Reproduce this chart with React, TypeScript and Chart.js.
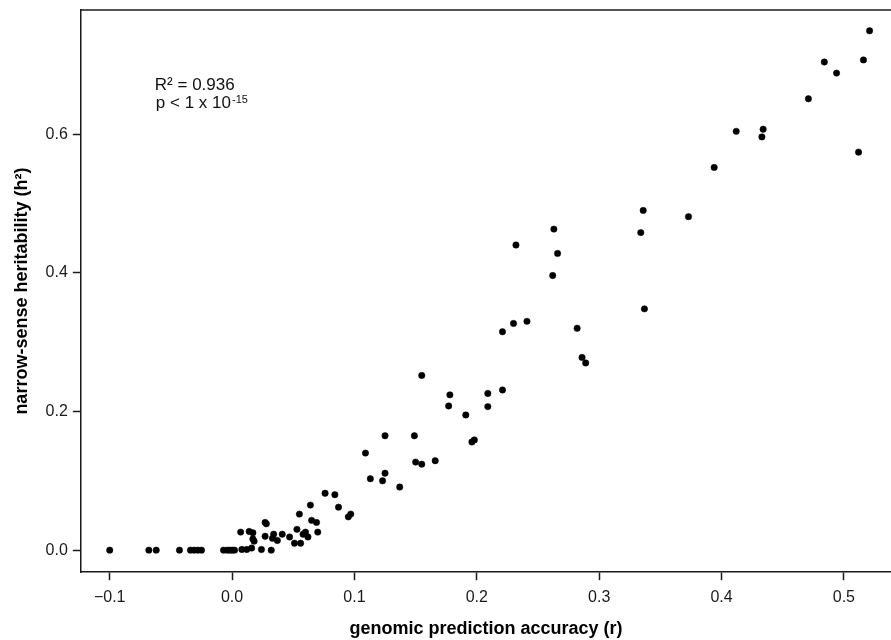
import { useEffect, useRef } from "react";
import { Chart, registerables } from "chart.js";

Chart.register(...registerables);

// genomic prediction accuracy (r)
const accuracy: number[] = [
  -0.1, -0.068, -0.062, -0.043, -0.034, -0.031, -0.028, -0.025, -0.007, -0.004, -0.002, 0.0, 0.002,
  0.007, 0.014, 0.017, 0.017, 0.018, 0.008, 0.012, 0.016, 0.024, 0.027, 0.028, 0.027, 0.033, 0.032,
  0.034, 0.037, 0.041, 0.047, 0.051, 0.056, 0.053, 0.055, 0.058, 0.06, 0.062, 0.064, 0.065, 0.069,
  0.07, 0.076, 0.084, 0.087, 0.095, 0.097,
  0.109, 0.113, 0.123, 0.125, 0.125, 0.137, 0.149, 0.15, 0.155, 0.155, 0.166, 0.177, 0.178, 0.191,
  0.196, 0.198, 0.209, 0.209, 0.221, 0.221, 0.23, 0.232, 0.241, 0.262, 0.263, 0.266, 0.282, 0.286,
  0.289, 0.334, 0.336, 0.337, 0.373, 0.394, 0.412, 0.433, 0.434, 0.471, 0.484, 0.494, 0.512, 0.516,
  0.521,
];

// narrow-sense heritability (h²)
const heritability: number[] = [
  0, 0, 0, 0, 0, 0, 0, 0, 0, 0, 0, 0, 0,
  0.026, 0.027, 0.025, 0.016, 0.013, 0.001, 0.001, 0.003, 0.001, 0.04, 0.038, 0.02, 0.017, 0.0,
  0.023, 0.014, 0.023, 0.019, 0.01, 0.01, 0.03, 0.052, 0.023, 0.026, 0.019, 0.065, 0.043, 0.04,
  0.026, 0.082, 0.08, 0.062, 0.048, 0.052,
  0.14, 0.103, 0.1, 0.111, 0.165, 0.091, 0.165, 0.127, 0.124, 0.252, 0.129, 0.208, 0.224, 0.195,
  0.156, 0.159, 0.226, 0.207, 0.231, 0.315, 0.327, 0.44, 0.33, 0.396, 0.463, 0.428, 0.32, 0.278,
  0.27, 0.458, 0.49, 0.348, 0.481, 0.552, 0.604, 0.596, 0.607, 0.651, 0.704, 0.688, 0.574, 0.707,
  0.749,
];

const xTickValues: number[] = [-0.1, 0, 0.1, 0.2, 0.3, 0.4, 0.5];
const xTickLabels: string[] = ["\u22120.1", "0.0", "0.1", "0.2", "0.3", "0.4", "0.5"];
const yTickValues: number[] = [0, 0.2, 0.4, 0.6];
const yTickLabels: string[] = ["0.0", "0.2", "0.4", "0.6"];

const xTitle = "genomic prediction accuracy (r)";
const yTitle = "narrow-sense heritability (h\u00b2)";
const statLine1 = "R\u00b2 = 0.936";
const statLine2 = "p < 1 x 10";
const statExponent = "-15";

const FONT = '"Liberation Sans", Arial, Helvetica, sans-serif';
const AXIS_COLOR = "#1a1a1a";

const framePlugin = {
  id: "frameAndStats",
  afterDraw(chart: any) {
    const { ctx, chartArea } = chart;
    ctx.save();
    ctx.strokeStyle = AXIS_COLOR;
    ctx.lineWidth = 1.5;
    ctx.beginPath();
    ctx.moveTo(chartArea.left - 0.75, chartArea.top);
    ctx.lineTo(chartArea.right + 2, chartArea.top);
    ctx.stroke();

    ctx.fillStyle = "#111";
    ctx.textBaseline = "alphabetic";
    ctx.textAlign = "left";
    const tx = chartArea.left + 74;
    ctx.font = `17px ${FONT}`;
    ctx.fillText(statLine1, tx, chartArea.top + 80);
    ctx.fillText(statLine2, tx + 1, chartArea.top + 98);
    const w = ctx.measureText(statLine2).width;
    ctx.font = `11px ${FONT}`;
    ctx.fillText(statExponent, tx + 1 + w + 1, chartArea.top + 93);
    ctx.restore();
  },
};

export default function App() {
  const canvasRef = useRef<HTMLCanvasElement | null>(null);

  useEffect(() => {
    document.body.style.margin = "0";
    const canvas = canvasRef.current;
    if (!canvas) return;
    const points = accuracy.map((x, i) => ({ x, y: heritability[i] }));
    const chart = new Chart(canvas, {
      type: "scatter",
      data: {
        datasets: [
          {
            data: points,
            backgroundColor: "#000",
            borderColor: "#000",
            borderWidth: 0.5,
            pointRadius: 3.2,
            pointHoverRadius: 3.2,
          },
        ],
      },
      options: {
        responsive: false,
        animation: false,
        layout: { autoPadding: false, padding: { top: 10, right: 0, bottom: 0, left: 11 } },
        plugins: {
          legend: { display: false },
          tooltip: { enabled: false },
        },
        scales: {
          x: {
            type: "linear",
            min: -0.1236,
            max: 0.5385,
            afterBuildTicks: (scale: any) => {
              scale.ticks = xTickValues.map((v) => ({ value: v }));
            },
            ticks: {
              callback: (_v: any, i: number) => xTickLabels[i],
              font: { family: FONT, size: 16 },
              color: "#1a1a1a",
              padding: 8,
              maxRotation: 0,
              autoSkip: false,
            },
            grid: {
              display: true,
              drawOnChartArea: false,
              drawTicks: true,
              tickLength: 8,
              tickWidth: 1.5,
              tickColor: AXIS_COLOR,
            },
            border: { display: true, color: AXIS_COLOR, width: 1.5 },
            title: {
              display: true,
              text: xTitle,
              font: { family: FONT, size: 18, weight: "bold" },
              color: "#000",
              padding: { top: 3, bottom: 0 },
            },
          },
          y: {
            type: "linear",
            min: -0.0318,
            max: 0.779,
            afterBuildTicks: (scale: any) => {
              scale.ticks = yTickValues.map((v) => ({ value: v }));
            },
            afterFit: (scale: any) => {
              scale.paddingTop = 0;
              scale.paddingBottom = 0;
            },
            ticks: {
              callback: (_v: any, i: number) => yTickLabels[i],
              font: { family: FONT, size: 16 },
              color: "#1a1a1a",
              padding: 5,
              autoSkip: false,
            },
            grid: {
              display: true,
              drawOnChartArea: false,
              drawTicks: true,
              tickLength: 8,
              tickWidth: 1.5,
              tickColor: AXIS_COLOR,
            },
            border: { display: true, color: AXIS_COLOR, width: 1.5 },
            title: {
              display: true,
              text: yTitle,
              font: { family: FONT, size: 18, weight: "bold" },
              color: "#000",
              padding: { top: 0, bottom: 8 },
            },
          },
        },
      },
      plugins: [framePlugin],
    } as any);
    return () => chart.destroy();
  }, []);

  return (
    <div style={{ position: "absolute", left: 0, top: 0, width: 891, height: 640, background: "#fff" }}>
      <canvas ref={canvasRef} width={891} height={640} />
    </div>
  );
}
